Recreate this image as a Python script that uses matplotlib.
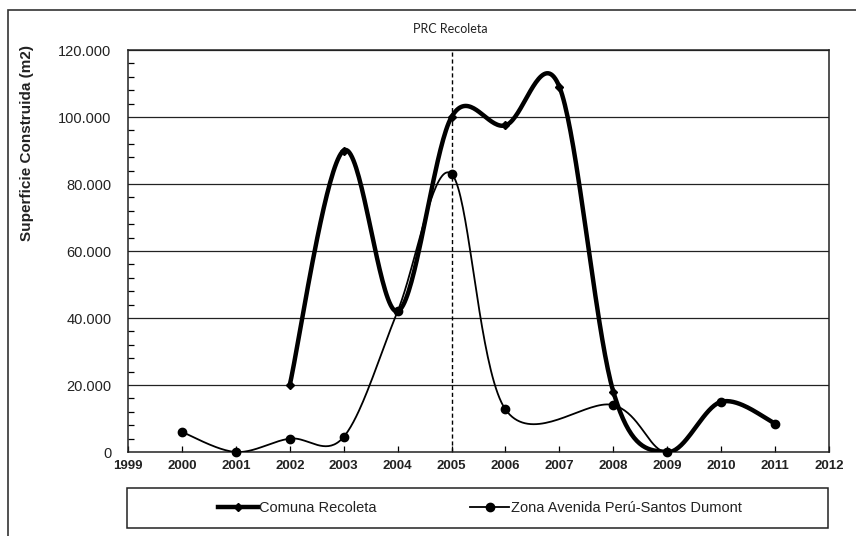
import numpy as np
import matplotlib.pyplot as plt
from matplotlib.lines import Line2D
from matplotlib.patches import Rectangle
from matplotlib.ticker import FuncFormatter, MultipleLocator

# Superficie construida por año (m2)
anios_comuna = [2002, 2003, 2004, 2005, 2006, 2007, 2008, 2009, 2010, 2011]
comuna = [20000, 90000, 42000, 100000, 97500, 109000, 18000, 0, 15000, 8500]

anios_zona = [2000, 2001, 2002, 2003, 2004, 2005, 2006, 2008, 2009, 2010, 2011]
zona = [6000, 0, 4000, 4500, 42000, 83000, 12700, 14000, 0, 15000, 8500]

anio_prc = 2005
titulo = "PRC Recoleta"
etiqueta_y = "Superficie Construida (m2)"
nombres = ["Comuna Recoleta", "Zona Avenida Perú-Santos Dumont"]


def suavizar(x, y, n=40):
    # curva suavizada tipo Excel (Bezier con puntos de control Catmull-Rom)
    p = np.column_stack([x, y]).astype(float)
    tramos = []
    t = np.linspace(0, 1, n)[:, None]
    for i in range(len(p) - 1):
        p0 = p[max(i - 1, 0)]
        p1 = p[i]
        p2 = p[i + 1]
        p3 = p[min(i + 2, len(p) - 1)]
        c1 = p1 + (p2 - p0) / 6
        c2 = p2 - (p3 - p1) / 6
        seg = (1 - t) ** 3 * p1 + 3 * (1 - t) ** 2 * t * c1 + 3 * (1 - t) * t ** 2 * c2 + t ** 3 * p2
        tramos.append(seg if i == 0 else seg[1:])
    s = np.vstack(tramos)
    return s[:, 0], s[:, 1]


plt.rcParams['font.family'] = ['Liberation Sans', 'DejaVu Sans']

fig = plt.figure(figsize=(8.56, 5.36), dpi=100)
ax = fig.add_axes([0.1495, 0.1567, 0.819, 0.75])

# marco exterior del gráfico
fig.add_artist(Rectangle((8 / 856, -0.1), 1.2, (526 / 536) + 0.1, transform=fig.transFigure,
                         fill=False, edgecolor='#333333', linewidth=1.2))

# líneas de la grilla
for v in range(20000, 120001, 20000):
    ax.axhline(v, color='#222222', linewidth=0.9, zorder=1)

ax.axvline(anio_prc, color='black', linestyle=(0, (3, 2)), linewidth=1, zorder=2)

xs, ys = suavizar(anios_zona, zona)
ax.plot(xs, ys, color='black', linewidth=1.3, zorder=3)
ax.plot(anios_zona, zona, 'o', color='black', markersize=6, zorder=4, clip_on=False)

xs, ys = suavizar(anios_comuna, comuna)
ax.plot(xs, ys, color='black', linewidth=3.2, zorder=5, solid_capstyle='round')
ax.plot(anios_comuna, comuna, 'D', color='black', markersize=4, zorder=6, clip_on=False)

ax.set_xlim(1999, 2012)
ax.set_ylim(0, 120000)
ax.set_xticks(range(1999, 2013))
ax.yaxis.set_major_locator(MultipleLocator(20000))
ax.yaxis.set_minor_locator(MultipleLocator(4000))
ax.yaxis.set_major_formatter(FuncFormatter(lambda v, p: f"{int(v):,}".replace(",", ".")))
ax.tick_params(axis='x', direction='in', length=4, width=0.9, pad=6, labelsize=9.5,
               labelcolor='#222222')
ax.tick_params(axis='y', which='major', direction='in', length=0, pad=12, labelsize=10.5,
               labelcolor='#222222')
ax.tick_params(axis='y', which='minor', direction='in', length=4, width=0.9)
for lab in ax.get_xticklabels():
    lab.set_fontweight('bold')
for sp in ax.spines.values():
    sp.set_color('#222222')
    sp.set_linewidth(1.1)

fig.text(27 / 856, 1 - 143 / 536, etiqueta_y, rotation=90, ha='center', va='center',
         fontsize=11, fontweight='bold', color='#222222')
fig.text(450 / 856, 1 - 29 / 536, titulo, ha='center', va='center', fontsize=9,
         family=['Lato', 'DejaVu Sans'], color='#222222')

# leyenda
fig.add_artist(Rectangle((127 / 856, 8 / 536), 701 / 856, 40 / 536, transform=fig.transFigure,
                         fill=False, edgecolor='#222222', linewidth=1.1))
handles = [Line2D([], [], color='black', linewidth=3.2, marker='D', markersize=4),
           Line2D([], [], color='black', linewidth=1.3, marker='o', markersize=6)]
fig.legend(handles, nombres, loc='center', bbox_to_anchor=(480 / 856, 28 / 536), ncol=2,
           frameon=False, fontsize=10.5, handlelength=2.7, handletextpad=0.1,
           columnspacing=6.4, labelcolor='#222222')

fig.savefig("out.png", dpi=100)
